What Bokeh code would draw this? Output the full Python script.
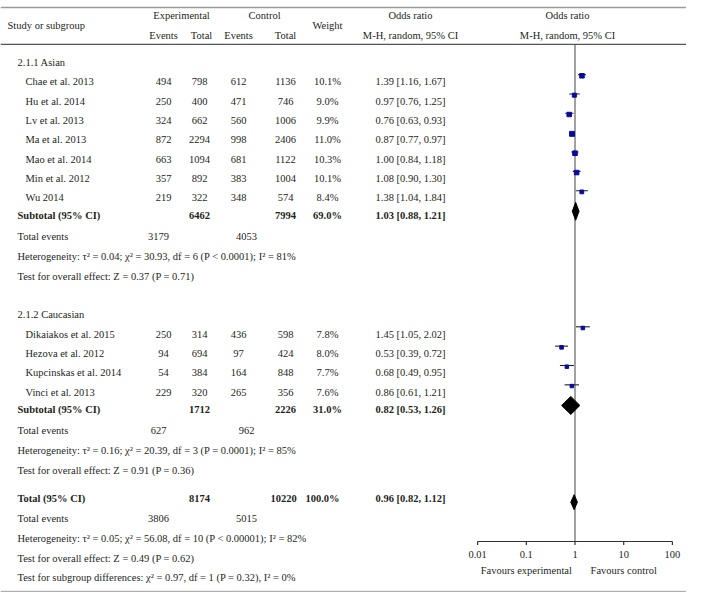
from bokeh.plotting import figure
from bokeh.models import Range1d, LogScale, ColumnDataSource
from bokeh.core.properties import value
from bokeh.embed import file_html
from bokeh.resources import INLINE

# ---------------- DATA ----------------
asian_studies = ["Chae et al. 2013", "Hu et al. 2014", "Lv et al. 2013", "Ma et al. 2013",
                 "Mao et al. 2014", "Min et al. 2012", "Wu 2014"]
asian_exp_events = [494, 250, 324, 872, 663, 357, 219]
asian_exp_total = [798, 400, 662, 2294, 1094, 892, 322]
asian_ctrl_events = [612, 471, 560, 998, 681, 383, 348]
asian_ctrl_total = [1136, 746, 1006, 2406, 1122, 1004, 574]
asian_weight = [10.1, 9.0, 9.9, 11.0, 10.3, 10.1, 8.4]
asian_or = [1.39, 0.97, 0.76, 0.87, 1.00, 1.08, 1.38]
asian_lo = [1.16, 0.76, 0.63, 0.77, 0.84, 0.90, 1.04]
asian_hi = [1.67, 1.25, 0.93, 0.97, 1.18, 1.30, 1.84]

cauc_studies = ["Dikaiakos et al. 2015", "Hezova et al. 2012", "Kupcinskas et al. 2014", "Vinci et al. 2013"]
cauc_exp_events = [250, 94, 54, 229]
cauc_exp_total = [314, 694, 384, 320]
cauc_ctrl_events = [436, 97, 164, 265]
cauc_ctrl_total = [598, 424, 848, 356]
cauc_weight = [7.8, 8.0, 7.7, 7.6]
cauc_or = [1.45, 0.53, 0.68, 0.86]
cauc_lo = [1.05, 0.39, 0.49, 0.61]
cauc_hi = [2.02, 0.72, 0.95, 1.21]

subgroup_names = ["2.1.1 Asian", "2.1.2 Caucasian"]
sub_exp_total = [6462, 1712]
sub_ctrl_total = [7994, 2226]
sub_weight = [69.0, 31.0]
sub_or = [1.03, 0.82]
sub_lo = [0.88, 0.53]
sub_hi = [1.21, 1.26]
sub_exp_events = [3179, 627]
sub_ctrl_events = [4053, 962]
sub_heterogeneity = ["Heterogeneity: τ² = 0.04; χ² = 30.93, df = 6 (P < 0.0001); I² = 81%",
                     "Heterogeneity: τ² = 0.16; χ² = 20.39, df = 3 (P = 0.0001); I² = 85%"]
sub_overall = ["Test for overall effect: Z = 0.37 (P = 0.71)",
               "Test for overall effect: Z = 0.91 (P = 0.36)"]

total_exp_total = 8174
total_ctrl_total = 10220
total_weight = 100.0
total_or, total_lo, total_hi = 0.96, 0.82, 1.12
total_exp_events = 3806
total_ctrl_events = 5015
total_heterogeneity = "Heterogeneity: τ² = 0.05; χ² = 56.08, df = 10 (P < 0.00001); I² = 82%"
total_overall = "Test for overall effect: Z = 0.49 (P = 0.62)"
subgroup_diff = "Test for subgroup differences: χ² = 0.97, df = 1 (P = 0.32), I² = 0%"

axis_ticks = [0.01, 0.1, 1, 10, 100]
axis_tick_labels = ["0.01", "0.1", "1", "10", "100"]
favours_labels = ["Favours experimental", "Favours control"]
favours_at = [0.1, 10]

# ---------------- LAYOUT ----------------
W, H = 686, 592
OR_ONE_X = 574.5
DECADE = 48.7
log_start = 10 ** ((0 - OR_ONE_X) / DECADE)
log_end = 10 ** ((W - OR_ONE_X) / DECADE)

COL_NAME = 25
COL_GROUP = 17
COL_EE, COL_ET, COL_CE, COL_CT, COL_W = 163, 199, 238, 285, 327
COL_TE_E, COL_TE_C = 158, 246
COL_OR = 410
COL_FOREST_HDR = 567

FONT = value("Liberation Serif")
FS = value("10.5px")
TXT = "#231f20"

p = figure(width=W, height=H, x_range=Range1d(0, W), y_range=Range1d(H, 0),
           output_backend="svg", toolbar_location=None, min_border=0,
           x_axis_location=None, y_axis_location=None)
p.grid.visible = False
p.outline_line_color = None
p.extra_x_ranges = {"or": Range1d(log_start, log_end)}
p.extra_x_scales = {"or": LogScale()}

normal = dict(x=[], y=[], text=[], align=[])
bold = dict(x=[], y=[], text=[], align=[])

def put(d, x, y, t, a="center"):
    d["x"].append(x); d["y"].append(y); d["text"].append(str(t)); d["align"].append(a)

# headers
put(normal, 7, 25, "Study or subgroup", "left")
put(normal, 181, 15, "Experimental")
put(normal, 264, 15, "Control")
put(normal, COL_EE, 35, "Events"); put(normal, 201, 35, "Total")
put(normal, COL_CE, 35, "Events"); put(normal, 285, 35, "Total")
put(normal, COL_W, 25, "Weight")
put(normal, COL_OR, 15, "Odds ratio"); put(normal, COL_OR, 35, "M-H, random, 95% CI")
put(normal, COL_FOREST_HDR, 15, "Odds ratio"); put(normal, COL_FOREST_HDR, 35, "M-H, random, 95% CI")

sq = dict(x=[], y=[], size=[])
ci = dict(x0=[], x1=[], y=[])
dia = dict(xs=[], ys=[])

groups = [
    (asian_studies, asian_exp_events, asian_exp_total, asian_ctrl_events, asian_ctrl_total,
     asian_weight, asian_or, asian_lo, asian_hi),
    (cauc_studies, cauc_exp_events, cauc_exp_total, cauc_ctrl_events, cauc_ctrl_total,
     cauc_weight, cauc_or, cauc_lo, cauc_hi),
]

STEP = 19.35
y = 62.0
for g, (names, ee, et, ce, ct, w, orv, lo, hi) in enumerate(groups):
    put(normal, COL_GROUP, y, subgroup_names[g], "left")
    yy = y + 19.3
    for i in range(len(names)):
        put(normal, COL_NAME, yy, names[i], "left")
        put(normal, COL_EE, yy, ee[i]); put(normal, COL_ET, yy, et[i])
        put(normal, COL_CE, yy, ce[i]); put(normal, COL_CT, yy, ct[i])
        put(normal, COL_W, yy, f"{w[i]:.1f}%")
        put(normal, COL_OR, yy, f"{orv[i]:.2f} [{lo[i]:.2f}, {hi[i]:.2f}]")
        sq["x"].append(orv[i]); sq["y"].append(yy - 6.0); sq["size"].append(w[i] * 0.45)
        ci["x0"].append(lo[i]); ci["x1"].append(hi[i]); ci["y"].append(yy - 7.2)
        last = yy
        yy += STEP
    ys = last + 17.4
    put(bold, COL_GROUP, ys, "Subtotal (95% CI)", "left")
    put(bold, COL_ET, ys, sub_exp_total[g]); put(bold, COL_CT, ys, sub_ctrl_total[g])
    put(bold, COL_W, ys, f"{sub_weight[g]:.1f}%")
    put(bold, COL_OR, ys, f"{sub_or[g]:.2f} [{sub_lo[g]:.2f}, {sub_hi[g]:.2f}]")
    dy = ys - 4.0
    dia["xs"].append([sub_lo[g], sub_or[g], sub_hi[g], sub_or[g]])
    dia["ys"].append([dy, dy - 9, dy, dy + 9])
    yt = ys + 21.3
    put(normal, COL_GROUP, yt, "Total events", "left")
    put(normal, COL_TE_E, yt, sub_exp_events[g]); put(normal, COL_TE_C, yt, sub_ctrl_events[g])
    put(normal, COL_GROUP, yt + 19.7, sub_heterogeneity[g], "left")
    put(normal, COL_GROUP, yt + 39.4, sub_overall[g], "left")
    y = yt + 39.4 + 38.7
    last_test = yt + 39.4

yT = last_test + 28
put(bold, COL_GROUP, yT, "Total (95% CI)", "left")
put(bold, COL_ET, yT, total_exp_total); put(bold, 283, yT, total_ctrl_total)
put(bold, 322, yT, f"{total_weight:.1f}%")
put(bold, COL_OR, yT, f"{total_or:.2f} [{total_lo:.2f}, {total_hi:.2f}]")
dy = yT + 4
dia["xs"].append([total_lo, total_or, total_hi, total_or])
dia["ys"].append([dy, dy - 7.5, dy, dy + 7.5])
yt = yT + 20.5
put(normal, COL_GROUP, yt, "Total events", "left")
put(normal, COL_TE_E, yt, total_exp_events); put(normal, COL_TE_C, yt, total_ctrl_events)
put(normal, COL_GROUP, yt + 19.7, total_heterogeneity, "left")
put(normal, COL_GROUP, yt + 39.4, total_overall, "left")
put(normal, COL_GROUP, yt + 59.1, subgroup_diff, "left")

AXIS_Y = 541
# rules
p.segment(x0=[0, 0, 0], x1=[W] * 3, y0=[7, 43.8, 591], y1=[7, 43.8, 591],
          line_color=["#9a9a9a", "#555555", "#b0b0b0"], line_width=[1.3, 1.2, 1.3])
# line of no effect
p.segment(x0=[1], x1=[1], y0=[44.5], y1=[AXIS_Y], line_color="#555555", line_width=1.1,
          x_range_name="or")
# axis
p.segment(x0=[axis_ticks[0]], x1=[axis_ticks[-1]], y0=[AXIS_Y], y1=[AXIS_Y],
          line_color="#333333", line_width=1.2, x_range_name="or")
p.segment(x0=axis_ticks, x1=axis_ticks, y0=[AXIS_Y] * len(axis_ticks),
          y1=[AXIS_Y + 3.5] * len(axis_ticks), line_color="#333333", line_width=1.2,
          x_range_name="or")
p.text(x=axis_ticks, y=[554] * len(axis_ticks), text=axis_tick_labels, x_range_name="or",
       text_font=FONT, text_font_size=FS, text_align="center", text_baseline="middle",
       text_color=TXT)
p.text(x=favours_at, y=[570] * 2, text=favours_labels, x_range_name="or",
       text_font=FONT, text_font_size=FS, text_align="center", text_baseline="middle",
       text_color=TXT)

# forest marks
p.segment(x0="x0", x1="x1", y0="y", y1="y", source=ColumnDataSource(ci),
          line_color="#1c1c3a", line_width=1.1, x_range_name="or")
p.scatter(x="x", y="y", size="size", marker="square", source=ColumnDataSource(sq),
          fill_color="#0a0a9c", line_color="#0a0a9c", x_range_name="or")
p.patches(xs="xs", ys="ys", source=ColumnDataSource(dia), fill_color="black",
          line_color="black", x_range_name="or")

# table texts
p.text(x="x", y="y", text="text", text_align="align", source=ColumnDataSource(normal),
       text_font=FONT, text_font_size=FS, text_baseline="middle", text_color=TXT)
p.text(x="x", y="y", text="text", text_align="align", source=ColumnDataSource(bold),
       text_font=FONT, text_font_size=FS, text_baseline="middle", text_color=TXT,
       text_font_style="bold")

open("out.html", "w").write(file_html(p, INLINE))
